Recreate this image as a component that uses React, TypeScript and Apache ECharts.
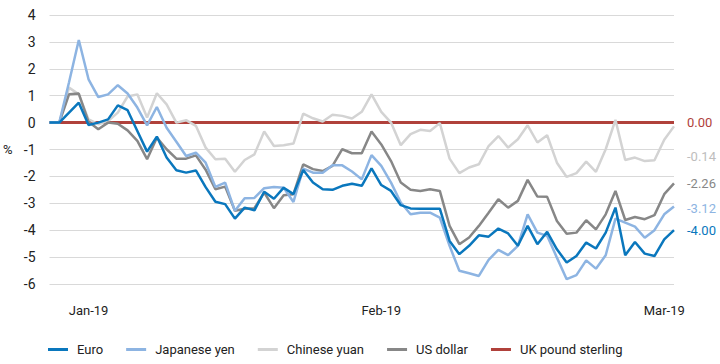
import React, { useEffect, useRef } from "react";
import * as echarts from "echarts";

const seriesNames = ["Euro", "Japanese yen", "Chinese yuan", "US dollar", "UK pound sterling"];
const seriesColors = ["#0A77BD", "#8DB4E2", "#D3D3D3", "#878787", "#B0413B"];

const euro = [0, 0, 0.37, 0.74, -0.09, 0.0, 0.12, 0.64, 0.46, -0.31, -1.08, -0.52, -1.3, -1.77, -1.86, -1.78, -2.4, -2.94, -3.03, -3.57, -3.16, -3.26, -2.57, -2.83, -2.42, -2.66, -1.76, -2.23, -2.48, -2.5, -2.35, -2.27, -2.35, -1.7, -2.32, -2.54, -3.07, -3.19, -3.2, -3.2, -3.2, -4.4, -4.89, -4.58, -4.19, -4.24, -3.94, -4.12, -4.58, -3.84, -4.52, -4.06, -4.71, -5.2, -4.96, -4.46, -4.68, -4.09, -3.16, -4.93, -4.44, -4.87, -4.96, -4.34, -4.0];
const jpy = [0, 0, 1.5, 3.07, 1.61, 0.95, 1.05, 1.39, 1.08, 0.56, -0.1, 0.58, -0.19, -0.71, -1.24, -1.12, -1.49, -2.39, -2.23, -3.28, -2.81, -2.8, -2.44, -2.39, -2.42, -2.95, -1.71, -1.86, -1.86, -1.59, -1.59, -1.82, -2.11, -1.21, -1.61, -2.23, -2.97, -3.41, -3.35, -3.35, -3.53, -4.58, -5.51, -5.6, -5.7, -5.1, -4.73, -4.93, -4.58, -3.41, -4.09, -4.21, -5.02, -5.82, -5.67, -5.12, -5.43, -4.93, -3.57, -3.72, -3.87, -4.28, -4.0, -3.41, -3.12];
const cny = [0, 0, 1.3, 1.05, 0.12, -0.06, 0.06, 0.37, 0.97, 1.05, 0.19, 1.09, 0.68, 0.0, 0.09, -0.12, -0.93, -1.36, -1.34, -1.83, -1.39, -1.18, -0.33, -0.87, -0.84, -0.78, 0.33, 0.16, 0.04, 0.29, 0.25, 0.15, 0.4, 1.05, 0.4, 0.0, -0.84, -0.43, -0.27, -0.31, -0.02, -1.34, -1.88, -1.67, -1.55, -0.87, -0.5, -0.93, -0.62, -0.1, -0.74, -0.47, -1.49, -2.02, -1.88, -1.45, -1.83, -0.99, 0.1, -1.39, -1.3, -1.43, -1.4, -0.64, -0.14];
const usd = [0, 0, 1.05, 1.08, 0.03, -0.25, 0.0, -0.04, -0.29, -0.68, -1.36, -0.56, -0.99, -1.34, -1.34, -1.22, -1.75, -2.48, -2.38, -3.28, -3.2, -3.18, -2.6, -3.18, -2.7, -2.66, -1.55, -1.73, -1.8, -1.61, -0.99, -1.14, -1.14, -0.33, -0.81, -1.43, -2.23, -2.5, -2.54, -2.48, -2.54, -3.84, -4.52, -4.27, -3.84, -3.35, -2.85, -3.16, -2.91, -2.13, -2.75, -2.76, -3.66, -4.13, -4.09, -3.63, -3.97, -3.41, -2.54, -3.62, -3.51, -3.59, -3.44, -2.66, -2.26];
const gbp = [0, 0, 0, 0, 0, 0, 0, 0, 0, 0, 0, 0, 0, 0, 0, 0, 0, 0, 0, 0, 0, 0, 0, 0, 0, 0, 0, 0, 0, 0, 0, 0, 0, 0, 0, 0, 0, 0, 0, 0, 0, 0, 0, 0, 0, 0, 0, 0, 0, 0, 0, 0, 0, 0, 0, 0, 0, 0, 0, 0, 0, 0, 0, 0, 0];

const xTickLabels = ["Jan-19", "Feb-19", "Mar-19"];
const xTickIndex = [4, 34, 63];
const categories = euro.map((_, i) => "d" + i);

const yMin = -6;
const yMax = 4;
const yStep = 1;

const FONT = "Roboto, 'Noto Sans', sans-serif";

export default function App() {
  const ref = useRef<HTMLDivElement>(null);

  useEffect(() => {
    if (!ref.current) return;
    const chart = echarts.init(ref.current, undefined, { renderer: "svg" });
    const allData = [euro, jpy, cny, usd, gbp];
    const labelDy = [0, 2, 30, 0, 0];
    const zOrder = [6, 5, 3, 4, 2];
    const series = allData.map((d, k) => ({
      name: seriesNames[k],
      type: "line",
      data: d,
      showSymbol: false,
      symbol: "none",
      z: zOrder[k],
      lineStyle: { color: seriesColors[k], width: k === 4 ? 3 : 2.5 },
      itemStyle: { color: seriesColors[k] },
      endLabel: {
        show: true,
        formatter: (p: any) => Number(p.value).toFixed(2),
        color: seriesColors[k] === "#D3D3D3" ? "#BDBDBD" : seriesColors[k],
        fontFamily: FONT,
        fontSize: 13,
        distance: 13,
        offset: [0, labelDy[k]],
      },
      emphasis: { disabled: true },
    }));

    chart.setOption({
      animation: false,
      textStyle: { fontFamily: FONT },
      grid: { left: 48, right: 46, top: 15, bottom: 80, containLabel: false },
      legend: {
        data: seriesNames.map((n) => ({ name: n, icon: "rect" })),
        left: 43,
        top: 338,
        itemWidth: 20,
        itemHeight: 3,
        itemGap: 23,
        textStyle: { fontFamily: FONT, fontSize: 13, color: "#222", padding: [0, 0, 0, 4] },
      },
      xAxis: {
        type: "category",
        data: categories,
        boundaryGap: false,
        axisLine: { show: false },
        axisTick: { show: false },
        splitLine: { show: false },
        axisLabel: {
          interval: (i: number) => xTickIndex.indexOf(i) >= 0,
          formatter: (_v: string, i: number) => {
            const j = xTickIndex.indexOf(i);
            return j >= 0 ? xTickLabels[j] : "";
          },
          margin: 20,
          fontFamily: FONT,
          fontSize: 13,
          color: "#222",
        },
      },
      yAxis: {
        type: "value",
        min: yMin,
        max: yMax,
        interval: yStep,
        name: "%",
        nameLocation: "middle",
        nameGap: 37,
        nameRotate: 0,
        nameTextStyle: { fontFamily: FONT, fontSize: 13, color: "#222", padding: [8, 0, 0, 0] },
        axisLine: { show: false },
        axisTick: { show: false },
        splitLine: { lineStyle: { color: "#D9D9D9", width: 1 } },
        axisLabel: { margin: 14, fontFamily: FONT, fontSize: 14, color: "#222" },
      },
      series,
    });
    return () => chart.dispose();
  }, []);

  return <div ref={ref} style={{ width: 720, height: 364, position: "absolute", left: 0, top: 0 }} />;
}
